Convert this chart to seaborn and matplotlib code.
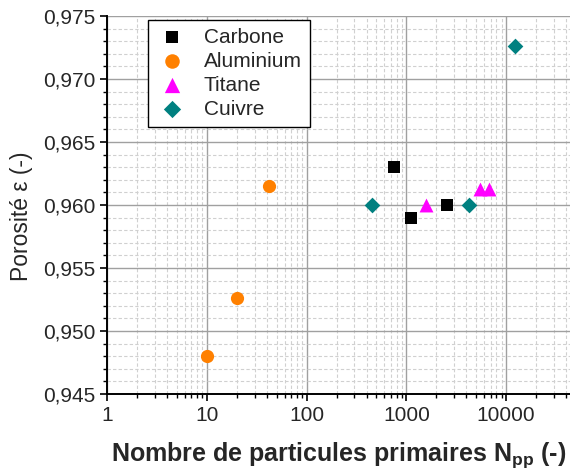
import matplotlib
matplotlib.use("Agg")
import matplotlib.pyplot as plt
import matplotlib.ticker as mticker
import seaborn as sns
import pandas as pd

# Measured points: number of primary particles vs. porosity
carbone_n = [757, 1100, 2570]
carbone_eps = [0.9630, 0.9590, 0.9600]

aluminium_n = [10, 20, 42]
aluminium_eps = [0.9480, 0.9526, 0.9615]

titane_n = [1580, 5450, 6700]
titane_eps = [0.9600, 0.9613, 0.9613]

cuivre_n = [452, 4250, 12200]
cuivre_eps = [0.9600, 0.9600, 0.9726]

materials = ["Carbone", "Aluminium", "Titane", "Cuivre"]
colors = {"Carbone": "#000000", "Aluminium": "#FF8000",
          "Titane": "#FF00FF", "Cuivre": "#008080"}
markers = {"Carbone": "s", "Aluminium": "o", "Titane": "^", "Cuivre": "D"}
msize = {"Carbone": 8, "Aluminium": 9.5, "Titane": 10, "Cuivre": 8}

x_ticks = [1, 10, 100, 1000, 10000]
y_ticks = [0.945, 0.950, 0.955, 0.960, 0.965, 0.970, 0.975]

df = pd.concat([
    pd.DataFrame({"N": carbone_n, "eps": carbone_eps, "mat": "Carbone"}),
    pd.DataFrame({"N": aluminium_n, "eps": aluminium_eps, "mat": "Aluminium"}),
    pd.DataFrame({"N": titane_n, "eps": titane_eps, "mat": "Titane"}),
    pd.DataFrame({"N": cuivre_n, "eps": cuivre_eps, "mat": "Cuivre"}),
], ignore_index=True)

sns.set_style("white")
plt.rcParams["font.family"] = ["Liberation Sans", "DejaVu Sans"]
plt.rcParams["mathtext.fontset"] = "custom"
plt.rcParams["mathtext.rm"] = "Liberation Sans"
plt.rcParams["mathtext.bf"] = "Liberation Sans:bold"
plt.rcParams["mathtext.it"] = "Liberation Sans:italic"

fig = plt.figure(figsize=(5.70, 4.74), dpi=100)
ax = fig.add_axes([0.188, 0.169, 0.812, 0.797])

for m in materials:
    sub = df[df["mat"] == m]
    sns.scatterplot(data=sub, x="N", y="eps", ax=ax, color=colors[m],
                    marker=markers[m], s=msize[m] ** 2, linewidth=0,
                    label=m, zorder=5, clip_on=False)

ax.set_xscale("log")
ax.set_xlim(1, 10 ** 4.64)
ax.set_ylim(0.945, 0.975)

ax.xaxis.set_major_locator(mticker.FixedLocator(x_ticks))
ax.xaxis.set_minor_locator(mticker.LogLocator(base=10, subs=range(2, 10), numticks=20))
ax.xaxis.set_major_formatter(mticker.FuncFormatter(lambda v, p: f"{v:g}"))
ax.xaxis.set_minor_formatter(mticker.NullFormatter())

ax.yaxis.set_major_locator(mticker.FixedLocator(y_ticks))
ax.yaxis.set_minor_locator(mticker.MultipleLocator(0.001))
ax.yaxis.set_major_formatter(mticker.FuncFormatter(lambda v, p: f"{v:.3f}".replace(".", ",")))

ax.grid(True, which="major", color="#a0a0a0", linewidth=1.0, linestyle="-")
ax.grid(True, which="minor", color="#d0d0d0", linewidth=0.8, linestyle=(0, (3, 2)))
ax.set_axisbelow(True)

for side in ["top", "right"]:
    ax.spines[side].set_visible(False)
for side in ["left", "bottom"]:
    ax.spines[side].set_color("black")
    ax.spines[side].set_linewidth(1.4)

ax.tick_params(axis="both", which="major", direction="out", length=5, width=1.2,
               labelsize=15, color="black", left=True, bottom=True)
ax.tick_params(axis="both", which="minor", direction="out", length=3, width=1.0,
               color="black", left=True, bottom=True)

ax.set_xlabel(r"Nombre de particules primaires $\mathbf{N_{pp}}$ (-)",
              fontsize=18, fontweight="bold", labelpad=11)
ax.set_ylabel("Porosité ε (-)", fontsize=16.5, labelpad=6)
ax.yaxis.set_label_coords(-0.16, 0.47)

leg = ax.legend(loc="upper left", bbox_to_anchor=(0.088, 0.99), fontsize=15,
                frameon=True, fancybox=False, edgecolor="black", framealpha=1,
                borderpad=0.38, labelspacing=0.24, handletextpad=0.7,
                handlelength=1.6, borderaxespad=0, markerscale=1.1)
leg.get_frame().set_linewidth(1.0)

fig.savefig("out.png", dpi=100)
